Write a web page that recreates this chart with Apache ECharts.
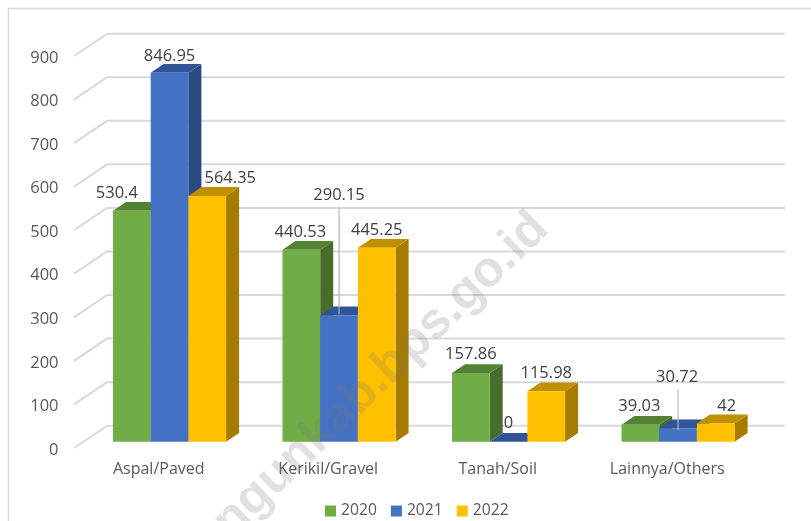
<!DOCTYPE html>
<html>
<head>
<meta charset="utf-8">
<style>html,body{margin:0;padding:0;background:#fff}#c{width:811px;height:521px}</style>
<script src="https://cdn.jsdelivr.net/npm/echarts@6/dist/echarts.min.js"></script>
</head>
<body>
<div id="c"></div>
<script>
const categories = ['Aspal/Paved', 'Kerikil/Gravel', 'Tanah/Soil', 'Lainnya/Others'];
const values2020 = [530.4, 440.53, 157.86, 39.03];
const values2021 = [846.95, 290.15, 0, 30.72];
const values2022 = [564.35, 445.25, 115.98, 42];
const ticks = [0, 100, 200, 300, 400, 500, 600, 700, 800, 900];

const FONT = '"Open Sans", sans-serif';
const TXT = '#595959';
const palette = [
  {name: '2020', front: '#70AD47', top: '#548235', side: '#466D2B', data: values2020,
   nudge: [[-15, -17.5], [-1, -17.5], [0, -18.5], [-1, -18.5]]},
  {name: '2021', front: '#4472C4', top: '#2F5597', side: '#2A4A80', data: values2021,
   nudge: [[0, -16.5], [0, -120], [0, -18.5], [-1, -51]]},
  {name: '2022', front: '#FFC000', top: '#BF9000', side: '#A67C00', data: values2022,
   nudge: [[23, -17.5], [0, -17.5], [0, -17.5], [11, -17.5]]}
];
const barW = 37.7, depthX = 13, depthY = 8.8, floorX = 10.8, floorY = 6.3, wallX = 33, wallY = 22.3;

function barSeries(p, idx) {
  return {
    name: p.name, type: 'custom', z: 3 + idx,
    data: p.data.map((v, i) => [i, v]),
    itemStyle: {color: p.front},
    encode: {x: 0, y: 1},
    renderItem(params, api) {
      const i = api.value(0), v = api.value(1);
      const t = api.coord([i, v]), b = api.coord([i, 0]);
      const x0 = t[0] + floorX + (idx - 1.5) * barW, x1 = x0 + barW;
      const yt = t[1] - floorY, yb = b[1] - floorY;
      const nud = p.nudge[i];
      const cx = (x0 + x1) / 2 + nud[0], cy = yt + nud[1];
      const kids = [
        {type: 'polygon', shape: {points: [[x1, yb], [x1 + depthX, yb - depthY], [x1 + depthX, yt - depthY], [x1, yt]]}, style: {fill: p.side}},
        {type: 'polygon', shape: {points: [[x0, yt], [x1, yt], [x1 + depthX, yt - depthY], [x0 + depthX, yt - depthY]]}, style: {fill: p.top}}
      ];
      if (v > 0) kids.push({type: 'rect', shape: {x: x0, y: yt, width: barW, height: yb - yt}, style: {fill: p.front}});
      if (nud[1] < -30) kids.push({type: 'line', shape: {x1: cx - nud[0], y1: cy + 12, x2: cx - nud[0], y2: yt - 1 + (v < 100 ? 3 : 0)}, style: {stroke: '#B3B3B3', lineWidth: 1.2}});
      kids.push({type: 'text', z2: 50, style: {text: String(v), x: cx, y: cy, align: 'center', verticalAlign: 'middle', fill: '#404040', font: '16.5px ' + FONT}});
      return {type: 'group', children: kids};
    }
  };
}

const gridSeries = {
  type: 'custom', z: 1, silent: true,
  data: ticks.map(t => [0, t]),
  encode: {x: 0, y: 1},
  renderItem(params, api) {
    const y = api.coord([0, api.value(1)])[1];
    const left = params.coordSys.x, w = params.coordSys.width;
    return {type: 'polyline', shape: {points: [[left, y], [left + wallX, y - wallY], [left + wallX + w, y - wallY]]},
      style: {fill: null, stroke: '#D9D9D9', lineWidth: 2}};
  }
};

const chart = echarts.init(document.getElementById('c'), null, {renderer: 'canvas'});
chart.setOption({
  animation: false,
  backgroundColor: '#fff',
  grid: {left: 74, top: 56, width: 678, height: 392, containLabel: false},
  legend: {
    left: 320, top: 498, itemWidth: 11, itemHeight: 11, itemGap: 14, icon: 'rect',
    data: palette.map(p => p.name),
    textStyle: {fontFamily: FONT, fontSize: 15.7, color: TXT}
  },
  xAxis: {
    type: 'category', data: categories,
    axisLine: {show: false}, axisTick: {show: false},
    axisLabel: {fontFamily: FONT, fontSize: 16, color: TXT, margin: 13}
  },
  yAxis: {
    type: 'value', min: 0, max: 900, interval: 100,
    axisLine: {show: false}, axisTick: {show: false}, splitLine: {show: false},
    axisLabel: {fontFamily: FONT, fontSize: 16.5, color: TXT, margin: 15.5, verticalAlign: 'top', lineHeight: 4}
  },
  graphic: [
    {type: 'polyline', z: 0, shape: {points: [[8.5, 521], [8.5, 8.5], [811, 8.5]]}, style: {fill: null, stroke: '#D9D9D9', lineWidth: 1.5}},
    {type: 'text', z: 100, silent: true, x: 541, y: 221, rotation: Math.PI * 44 / 180,
     style: {text: 'simalungunkab.bps.go.id', align: 'right', verticalAlign: 'middle', font: 'bold 50px "Liberation Sans", sans-serif', fill: 'rgba(120,120,120,0.22)'}}
  ],
  series: [gridSeries].concat(palette.map(barSeries))
});
</script>
</body>
</html>
